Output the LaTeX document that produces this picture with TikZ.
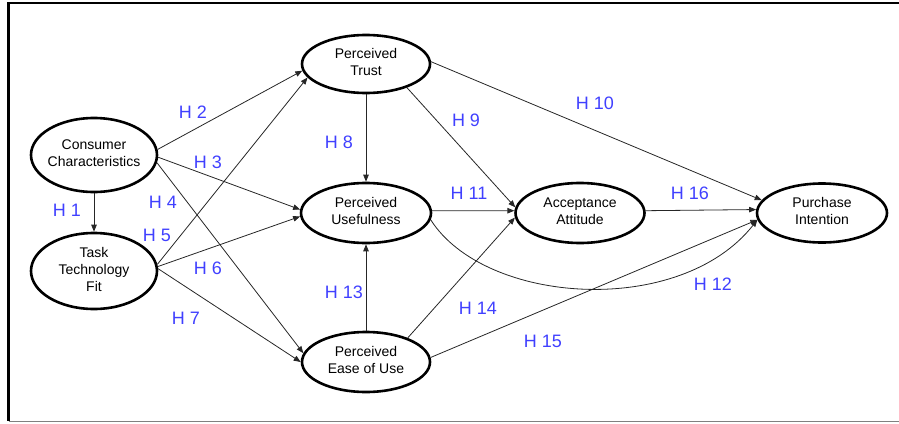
\documentclass[tikz,border=0pt]{standalone}
\usepackage{fontspec}
\setmainfont{Liberation Sans}
\usetikzlibrary{shapes.geometric,arrows.meta}
\definecolor{hblue}{RGB}{64,64,255}
\newcommand{\ovaltext}[1]{\makebox[0pt]{\begin{tabular}{@{}c@{}}#1\end{tabular}}}
\tikzset{
  oval/.style={ellipse, draw=black, line width=2.6pt, inner sep=0pt,
    minimum width=126pt, minimum height=#1,
    font=\fontsize{14}{17}\selectfont},
  oval/.default=58pt,
  hyp/.style={text=hblue, font=\fontsize{18}{20}\selectfont, inner sep=0pt},
  link/.style={draw=black!85, line width=0.8pt, -{Triangle[length=7pt,width=5.5pt]}},
}
\begin{document}
\begin{tikzpicture}[x=1pt,y=-1pt]
\useasboundingbox (0,0) rectangle (899,423);
% frame
\draw[line width=2.7pt] (899,3) -- (8.7,3) -- (8.7,421);
\draw[gray, line width=0.8pt] (8.7,421.6) -- (899,421.6);
% nodes
\node[oval=74pt] (cc) at (94,155) {\ovaltext{Consumer\\Characteristics}};
\node[oval=76pt] (tt) at (94,271) {\ovaltext{Task\\Technology\\Fit}};
\node[oval=58pt, minimum width=128pt] (pt) at (366,64) {\ovaltext{Perceived\\Trust}};
\node[oval=60pt, minimum width=130pt] (pu) at (366,213) {\ovaltext{Perceived\\Usefulness}};
\node[oval=60pt, minimum width=128pt] (pe) at (366,362) {\ovaltext{Perceived\\Ease of Use}};
\node[oval=60pt, minimum width=129pt] (aa) at (580,213) {\ovaltext{Acceptance\\Attitude}};
\node[oval=59pt, minimum width=130pt] (pi) at (822,213) {\ovaltext{Purchase\\Intention}};
% connectors
\draw[link] (cc.south) -- (tt.north);
\draw[link] (cc.5) -- (pt.186);
\draw[link] (cc.-2) -- (pu.177);
\draw[link] (cc.-7) -- (pe.172);
\draw[link] (tt.6) -- (pt.193);
\draw[link] (tt.4) -- (pu.183);
\draw[link] (tt.2) -- (pe.180);
\draw[link] (pt.south) -- (pu.north);
\draw[link] (pt.-30) -- (aa.175);
\draw[link] (pt.2) -- (pi.168);
\draw[link] (pu.2) -- (aa.178);
\draw[link] (pu.-6) .. controls (485,305) and (680,318) .. (pi.186);
\draw[link] (pe.north) -- (pu.south);
\draw[link] (pe.30) -- (aa.184);
\draw[link] (pe.4) -- (pi.186);
\draw[link] (aa.2) -- (pi.177);
% hypothesis labels
\node[hyp] (h1) at (67,210) {H 1};
\node[hyp] (h2) at (193,112) {H 2};
\node[hyp] (h3) at (208,162) {H 3};
\node[hyp] (h4) at (163,202) {H 4};
\node[hyp] (h5) at (157,235) {H 5};
\node[hyp] (h6) at (208,268) {H 6};
\node[hyp] (h7) at (186,318) {H 7};
\node[hyp] (h8) at (339,142) {H 8};
\node[hyp] (h9) at (466,120) {H 9};
\node[hyp] (h10) at (595,103) {H 10};
\node[hyp] (h11) at (469,193) {H 11};
\node[hyp] (h12) at (713,284) {H 12};
\node[hyp] (h13) at (344,292) {H 13};
\node[hyp] (h14) at (478,308) {H 14};
\node[hyp] (h15) at (543,341) {H 15};
\node[hyp] (h16) at (690,193) {H 16};
\end{tikzpicture}
\end{document}
